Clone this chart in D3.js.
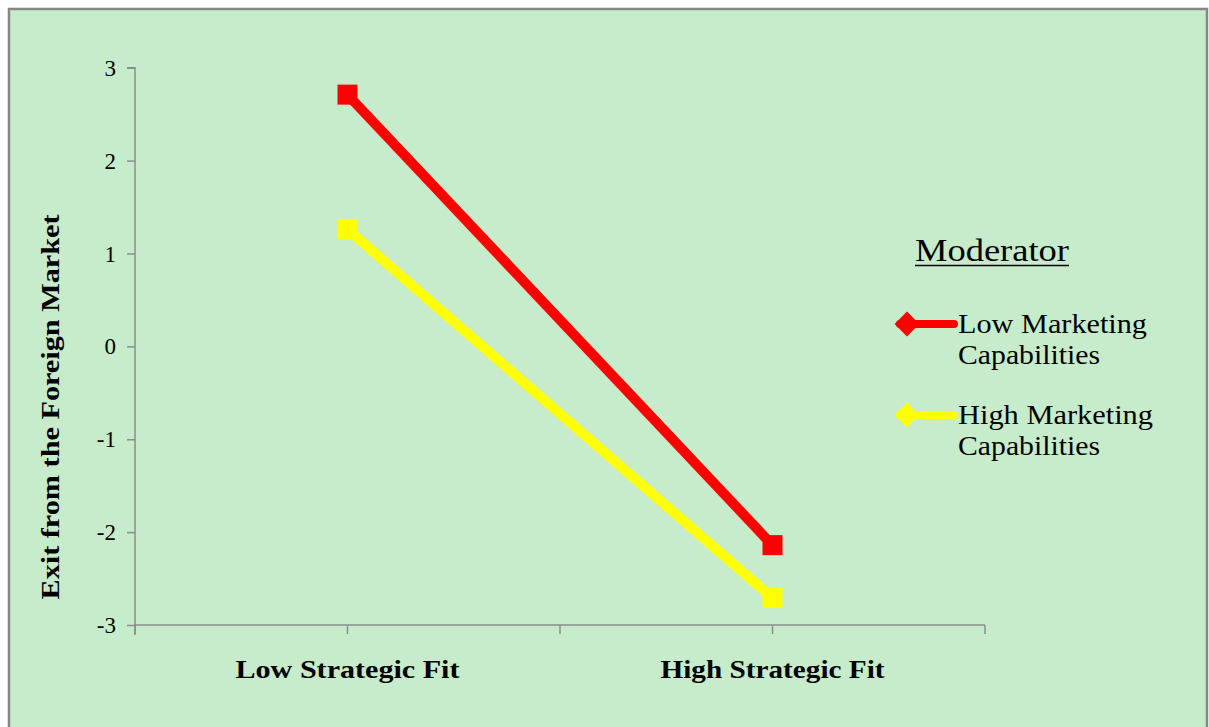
<!DOCTYPE html>
<html>
<head>
<meta charset="utf-8">
<script src="https://cdn.jsdelivr.net/npm/d3@7"></script>
<style>
  html, body { margin: 0; padding: 0; background: #ffffff; }
  svg { display: block; }
  text { font-family: "Liberation Serif", "Times New Roman", serif; fill: #000; }
</style>
</head>
<body>
<svg id="chart" width="1209" height="727"></svg>
<script>
// Categories on the x axis
const categories = ["Low Strategic Fit", "High Strategic Fit"];
// Series names and values (exit from the foreign market)
const seriesNames = ["Low Marketing Capabilities", "High Marketing Capabilities"];
const lowMarketing = [2.71, -2.14];
const highMarketing = [1.26, -2.71];
const seriesColors = ["#FF0000", "#FFFF00"];
// Y axis ticks
const yTicks = [-3, -2, -1, 0, 1, 2, 3];

const svg = d3.select("#chart");

// panel background with frame
svg.append("rect")
  .attr("x", 9).attr("y", 9)
  .attr("width", 1198).attr("height", 730)
  .attr("fill", "#C7ECCB")
  .attr("stroke", "#878787")
  .attr("stroke-width", 2.5);

const plot = { left: 135, right: 985, top: 67.7, bottom: 625 };

const x = d3.scaleBand().domain(categories).range([plot.left, plot.right]);
const y = d3.scaleLinear().domain([-3, 3]).range([plot.bottom, plot.top]);

// Y axis
const yAxis = d3.axisLeft(y).tickValues(yTicks).tickSize(8).tickPadding(11)
  .tickFormat(d3.format("d"));
const gy = svg.append("g").attr("transform", `translate(${plot.left},0)`).call(yAxis);
gy.attr("font-size", 23).attr("font-family", "Liberation Serif");
gy.select(".domain").attr("stroke", "#8c8c8c").attr("stroke-width", 1.5)
  .attr("d", `M-8,${plot.top}H0V${plot.bottom + 10}`);
gy.selectAll(".tick line").attr("stroke", "#8c8c8c").attr("stroke-width", 1.5);
gy.selectAll(".tick text")
  .attr("font-size", 23)
  .style("font-size", "23px").attr("fill", "#000")
  .attr("dy", "0.33em")
  .text(d => d < 0 ? "-" + Math.abs(d) : d);

// X axis: ticks at category boundaries and centres
const xTickPos = [];
categories.forEach((c, i) => {
  if (i === 0) xTickPos.push(x(c));
  xTickPos.push(x(c) + x.bandwidth() / 2);
  xTickPos.push(x(c) + x.bandwidth());
});
const gx = svg.append("g").attr("transform", `translate(0,${plot.bottom})`);
gx.append("line").attr("x1", plot.left - 1).attr("x2", plot.right)
  .attr("stroke", "#8c8c8c").attr("stroke-width", 1.5);
gx.selectAll("line.tk").data(xTickPos).join("line").attr("class", "tk")
  .attr("x1", d => d).attr("x2", d => d).attr("y1", 0).attr("y2", 9)
  .attr("stroke", "#8c8c8c").attr("stroke-width", 1.5);
gx.selectAll("text").data(categories).join("text")
  .attr("x", d => x(d) + x.bandwidth() / 2)
  .attr("y", 53)
  .attr("text-anchor", "middle")
  .style("font-size", "26px").style("font-weight", "bold")
  .attr("textLength", 224).attr("lengthAdjust", "spacingAndGlyphs")
  .text(d => d);

// Y axis title
svg.append("text")
  .attr("transform", "translate(59,407) rotate(-90)")
  .attr("text-anchor", "middle")
  .style("font-size", "26px").style("font-weight", "bold")
  .attr("textLength", 385).attr("lengthAdjust", "spacingAndGlyphs")
  .text("Exit from the Foreign Market");

// Series lines and square markers
const series = [lowMarketing, highMarketing];
const cx = c => x(c) + x.bandwidth() / 2;
const line = d3.line().x((d, i) => cx(categories[i])).y(d => y(d));

series.forEach((vals, s) => {
  const g = svg.append("g");
  g.append("path").datum(vals)
    .attr("d", line)
    .attr("fill", "none")
    .attr("stroke", seriesColors[s])
    .attr("stroke-width", 10);
  g.selectAll("rect").data(vals).join("rect")
    .attr("x", (d, i) => cx(categories[i]) - 10)
    .attr("y", d => y(d) - 10)
    .attr("width", 20).attr("height", 20)
    .attr("fill", seriesColors[s]);
});

// Legend
svg.append("text")
  .attr("x", 915).attr("y", 261)
  .style("font-size", "32px")
  .attr("textLength", 154).attr("lengthAdjust", "spacingAndGlyphs")
  .text("Moderator");
svg.append("line")
  .attr("x1", 915).attr("x2", 1069).attr("y1", 265.5).attr("y2", 265.5)
  .attr("stroke", "#000").attr("stroke-width", 1.6);

const legendRows = [
  { lines: ["Low Marketing", "Capabilities"], widths: [189, 142], cy: 324, base: 333 },
  { lines: ["High Marketing", "Capabilities"], widths: [195, 142], cy: 415, base: 424 }
];
legendRows.forEach((r, s) => {
  const g = svg.append("g");
  g.append("line")
    .attr("x1", 900).attr("x2", 954).attr("y1", r.cy).attr("y2", r.cy)
    .attr("stroke", seriesColors[s]).attr("stroke-width", 8)
    .attr("stroke-linecap", "round");
  g.append("path")
    .attr("d", d3.symbol().type(d3.symbolDiamond2).size(2 * 14 * 14)())
    .attr("transform", `translate(907,${r.cy})`)
    .attr("fill", seriesColors[s]);
  r.lines.forEach((t, k) => {
    g.append("text")
      .attr("x", 958).attr("y", r.base + k * 31)
      .style("font-size", "28px")
      .attr("textLength", r.widths[k]).attr("lengthAdjust", "spacingAndGlyphs")
      .attr("fill", "#111")
      .text(t);
  });
});
</script>
</body>
</html>
